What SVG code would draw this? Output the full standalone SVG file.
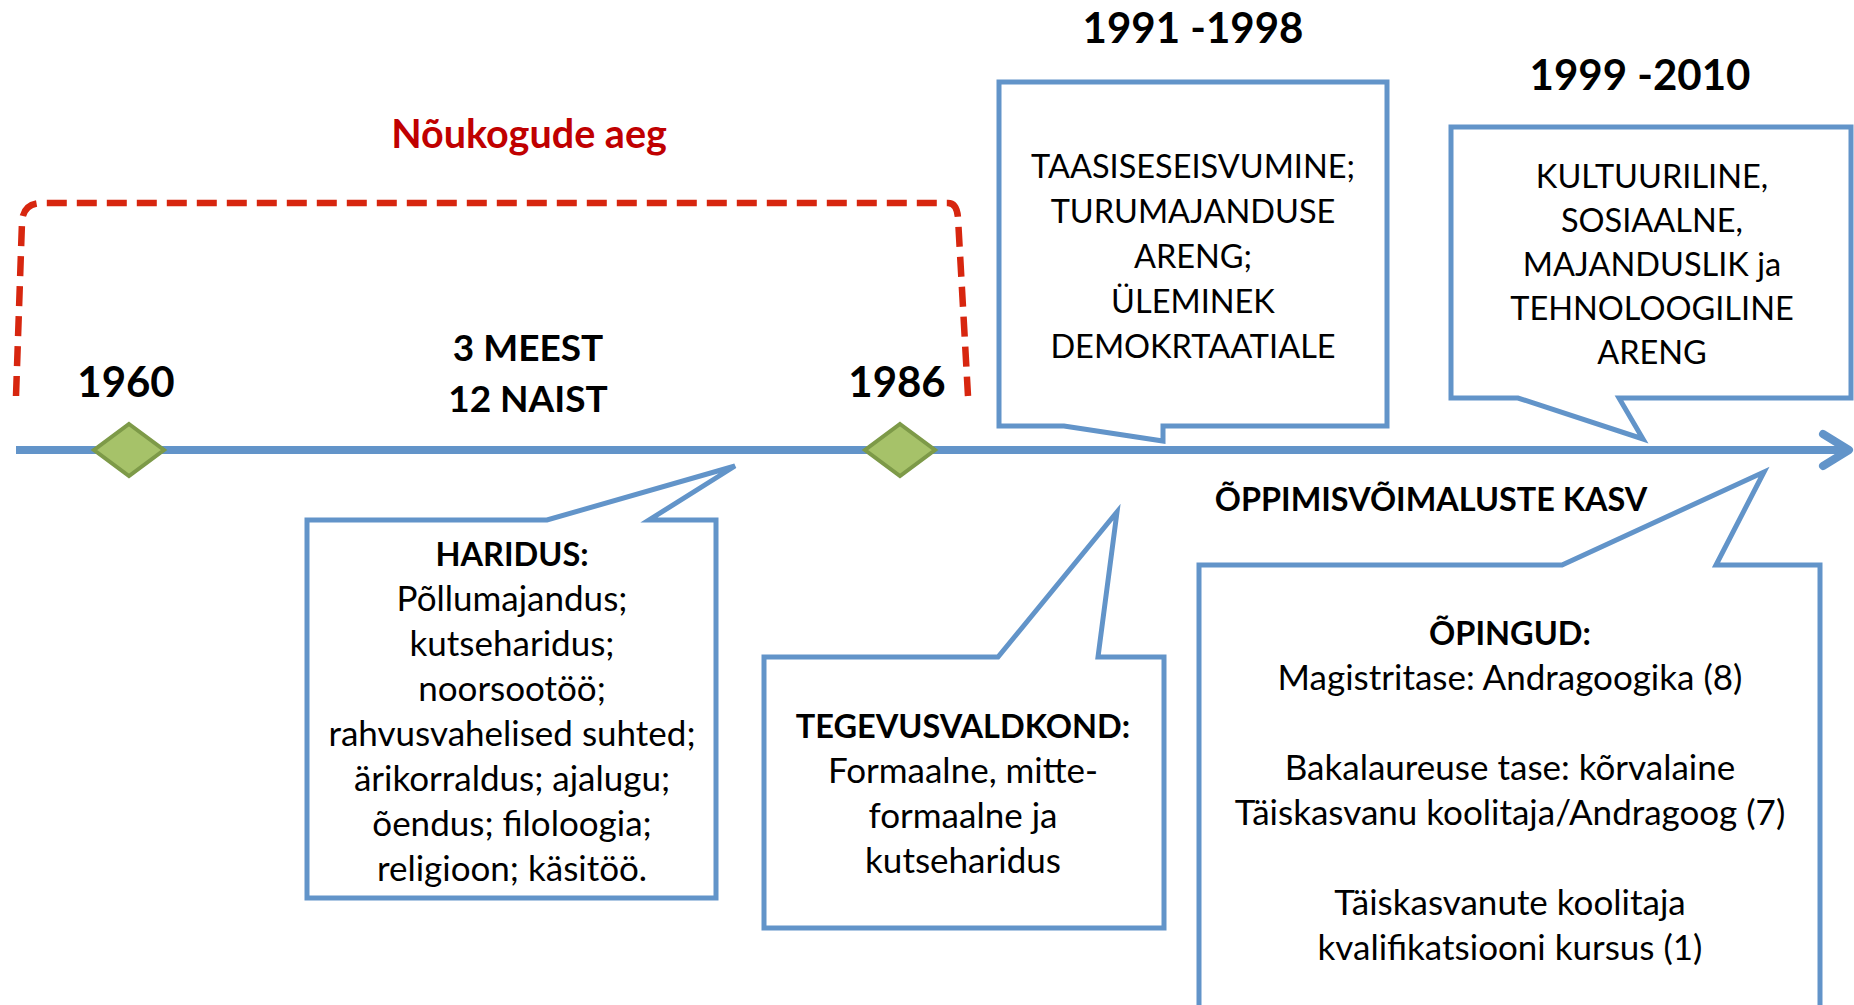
<svg xmlns="http://www.w3.org/2000/svg" width="1854" height="1005" viewBox="0 0 1854 1005">
<style>
.t{font-family:Lato,"Open Sans","Liberation Sans",sans-serif;fill:#000;text-anchor:middle}
.b{font-weight:bold}
.caps{font-size:32.5px}
.body{font-size:35px}
.hd{font-size:32.5px;font-weight:bold}
.yr{font-size:42px;font-weight:bold}
.box{fill:#fff;stroke:#6294C9;stroke-width:5;stroke-linejoin:miter}
.dia{fill:#A6C269;stroke:#7D9A48;stroke-width:4}
</style>
<rect width="1854" height="1005" fill="#fff"/>
<g id="connectors">
<path id="soviet-bracket" d="M16,396 L22,222 Q23,203 42,203 L948,203 Q957,203 958,218 L968,396" fill="none" stroke="#D7260F" stroke-width="6.5" stroke-dasharray="20 10"/>
<line id="timeline" x1="16" y1="450" x2="1846" y2="450" stroke="#6294C9" stroke-width="8"/>
<polyline id="timeline-head" points="1823,434 1849,450 1823,466" fill="none" stroke="#6294C9" stroke-width="8" stroke-linecap="round" stroke-linejoin="round"/>
</g>
<g id="title-soviet"><text class="t b" x="529" y="148" font-size="39.5" style="fill:#C00000">Nõukogude aeg</text></g>
<g id="label-1960"><text class="t yr" x="126" y="397">1960</text></g>
<g id="label-1986"><text class="t yr" x="897" y="397">1986</text></g>
<g id="label-people"><text class="t b" x="528" y="361" font-size="37">3 MEEST</text><text class="t b" x="528" y="412" font-size="37">12 NAIST</text></g>
<g id="diamond-1960"><polygon class="dia" points="129,424 164,450 129,476 94,450"/></g>
<g id="diamond-1986"><polygon class="dia" points="900,424 935,450 900,476 865,450"/></g>
<g id="box-1991">
<text class="t yr" x="1193" y="43">1991 -1998</text>
<path class="box" d="M999,82 H1387 V426 H1163 L1163,441 L1064,426 H999 Z"/>
<text class="t caps"><tspan x="1193" y="178">TAASISESEISVUMINE;</tspan><tspan x="1193" y="223">TURUMAJANDUSE</tspan><tspan x="1193" y="268">ARENG;</tspan><tspan x="1193" y="313">ÜLEMINEK</tspan><tspan x="1193" y="358">DEMOKRTAATIALE</tspan></text>
</g>
<g id="box-1999">
<text class="t yr" x="1640" y="90">1999 -2010</text>
<path class="box" d="M1451,127 H1851 V398 H1619 L1643,439 L1518,398 H1451 Z"/>
<text class="t caps"><tspan x="1652" y="188">KULTUURILINE,</tspan><tspan x="1652" y="232">SOSIAALNE,</tspan><tspan x="1652" y="276">MAJANDUSLIK ja</tspan><tspan x="1652" y="320">TEHNOLOOGILINE</tspan><tspan x="1652" y="364">ARENG</tspan></text>
</g>
<g id="box-haridus">
<path class="box" d="M307,520 H547 L735,466 L649,520 H716 V898 H307 Z"/>
<text class="t body"><tspan x="512" y="566" class="hd">HARIDUS:</tspan><tspan x="512" y="611">Põllumajandus;</tspan><tspan x="512" y="656">kutseharidus;</tspan><tspan x="512" y="701">noorsootöö;</tspan><tspan x="512" y="746">rahvusvahelised suhted;</tspan><tspan x="512" y="791">ärikorraldus; ajalugu;</tspan><tspan x="512" y="836">õendus; filoloogia;</tspan><tspan x="512" y="881">religioon; käsitöö.</tspan></text>
</g>
<g id="box-tegevus">
<path class="box" d="M764,657 H998 L1117,512 L1098,657 H1164 V928 H764 Z"/>
<text class="t body"><tspan x="963" y="738" class="hd">TEGEVUSVALDKOND:</tspan><tspan x="963" y="783">Formaalne, mitte-</tspan><tspan x="963" y="828">formaalne ja</tspan><tspan x="963" y="873">kutseharidus</tspan></text>
</g>
<g id="box-opingud">
<text class="t b" x="1431" y="511" font-size="32.4">ÕPPIMISVÕIMALUSTE KASV</text>
<path class="box" d="M1199,565 H1562 L1764,472 L1716,565 H1820 V1015 H1199 Z"/>
<text class="t body"><tspan x="1510" y="645" class="hd">ÕPINGUD:</tspan><tspan x="1510" y="690">Magistritase: Andragoogika (8)</tspan><tspan x="1510" y="780">Bakalaureuse tase: kõrvalaine</tspan><tspan x="1510" y="825">Täiskasvanu koolitaja/Andragoog (7)</tspan><tspan x="1510" y="915">Täiskasvanute koolitaja</tspan><tspan x="1510" y="960">kvalifikatsiooni kursus (1)</tspan></text>
</g>
</svg>
